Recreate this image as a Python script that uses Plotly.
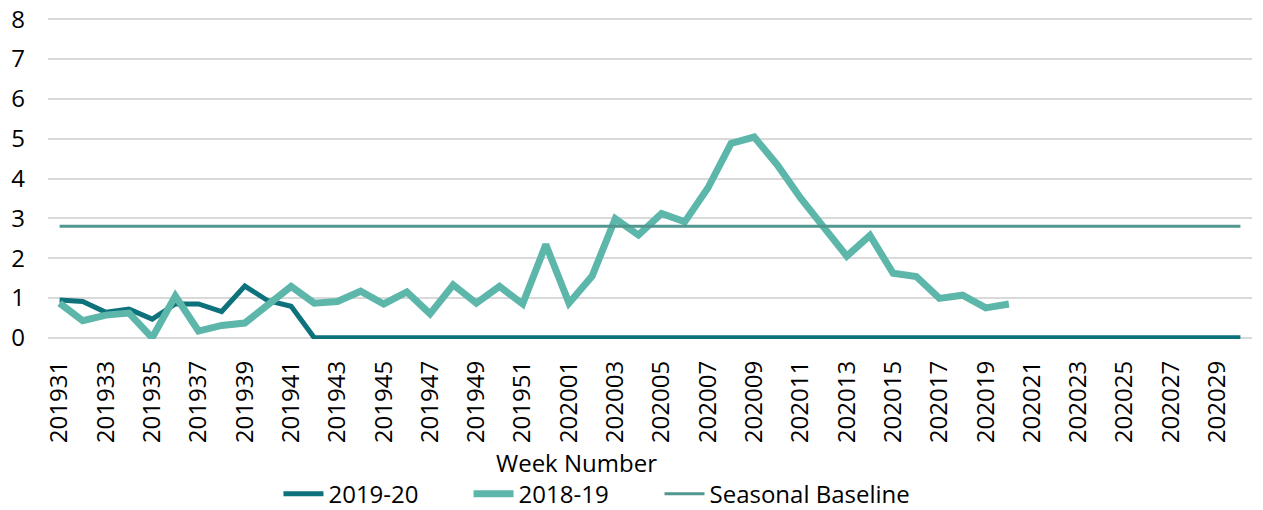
import plotly.graph_objects as go

weeks = [
    "201931", "201932", "201933", "201934", "201935", "201936", "201937", "201938",
    "201939", "201940", "201941", "201942", "201943", "201944", "201945", "201946",
    "201947", "201948", "201949", "201950", "201951", "201952",
    "202001", "202002", "202003", "202004", "202005", "202006", "202007", "202008",
    "202009", "202010", "202011", "202012", "202013", "202014", "202015", "202016",
    "202017", "202018", "202019", "202020", "202021", "202022", "202023", "202024",
    "202025", "202026", "202027", "202028", "202029", "202030",
]

season_2019_20 = [
    0.95, 0.91, 0.64, 0.72, 0.47, 0.85, 0.85, 0.66, 1.30, 0.93, 0.79,
    0, 0, 0, 0, 0, 0, 0, 0, 0, 0,
    0, 0, 0, 0, 0, 0, 0, 0, 0, 0,
    0, 0, 0, 0, 0, 0, 0, 0, 0, 0,
    0, 0, 0, 0, 0, 0, 0, 0, 0, 0,
    0,
]

season_2018_19 = [
    0.87, 0.43, 0.57, 0.62, 0.00, 1.05, 0.17, 0.31, 0.37, 0.83, 1.29,
    0.87, 0.91, 1.17, 0.85, 1.15, 0.60, 1.33, 0.87, 1.29, 0.85, 2.34,
    0.87, 1.55, 2.99, 2.58, 3.12, 2.91, 3.76, 4.88, 5.04, 4.34, 3.51,
    2.78, 2.05, 2.57, 1.62, 1.54, 0.99, 1.07, 0.75, 0.85,
    None, None, None, None, None, None, None, None, None, None,
]

seasonal_baseline = [
    2.8, 2.8, 2.8, 2.8, 2.8, 2.8, 2.8, 2.8, 2.8, 2.8, 2.8, 2.8, 2.8,
    2.8, 2.8, 2.8, 2.8, 2.8, 2.8, 2.8, 2.8, 2.8, 2.8, 2.8, 2.8, 2.8,
    2.8, 2.8, 2.8, 2.8, 2.8, 2.8, 2.8, 2.8, 2.8, 2.8, 2.8, 2.8, 2.8,
    2.8, 2.8, 2.8, 2.8, 2.8, 2.8, 2.8, 2.8, 2.8, 2.8, 2.8, 2.8, 2.8,
]

tick_labels = weeks[::2]
y_ticks = [0, 1, 2, 3, 4, 5, 6, 7, 8]

FONT = "Open Sans"
TEXT = dict(family=FONT, size=24, color="#000000")

fig = go.Figure()
fig.add_trace(go.Scatter(
    x=weeks, y=season_2019_20, name="2019-20", mode="lines",
    line=dict(color="#0D727C", width=5), cliponaxis=False, legend="legend",
))
fig.add_trace(go.Scatter(
    x=weeks, y=season_2018_19, name="2018-19", mode="lines",
    line=dict(color="#5DB6AA", width=7), cliponaxis=False, legend="legend2",
))
fig.add_trace(go.Scatter(
    x=weeks, y=seasonal_baseline, name="Seasonal Baseline", mode="lines",
    line=dict(color="#52978F", width=3), cliponaxis=False, legend="legend3",
))


def leg(x):
    return dict(orientation="h", x=x, xanchor="left", y=-0.483, yanchor="middle",
                font=TEXT, itemwidth=40, bgcolor="rgba(0,0,0,0)")


fig.update_layout(
    width=1263, height=510,
    margin=dict(l=48, r=11, t=18, b=171, autoexpand=False),
    paper_bgcolor="white", plot_bgcolor="white",
    font=TEXT,
    showlegend=True,
    legend=leg(0.1914),
    legend2=leg(0.3493),
    legend3=leg(0.5079),
    annotations=[dict(
        text="Week Number", xref="paper", yref="paper", x=0.439, y=-0.386,
        xanchor="center", yanchor="middle", showarrow=False, font=TEXT,
    )],
)

fig.update_xaxes(
    type="category", categoryorder="array", categoryarray=weeks,
    range=[-0.5, len(weeks) - 0.5], automargin=False,
    tickmode="array", tickvals=tick_labels, ticktext=tick_labels,
    tickangle=-90, showgrid=False, zeroline=False, showline=False,
    ticks="", ticklabelstandoff=16, ticklabeloverflow="allow", tickfont=TEXT,
)
fig.update_yaxes(
    range=[-0.03, 8.03], tickmode="array", tickvals=y_ticks, automargin=False,
    showgrid=True, gridcolor="#D9D9D9", gridwidth=1.5,
    zeroline=False, showline=False, ticks="", ticklabelstandoff=22,
    ticklabeloverflow="allow", tickfont=TEXT,
)

fig.write_html(
    "out.html",
    config={"displayModeBar": False},
    post_script="document.body.style.margin='0';",
)
